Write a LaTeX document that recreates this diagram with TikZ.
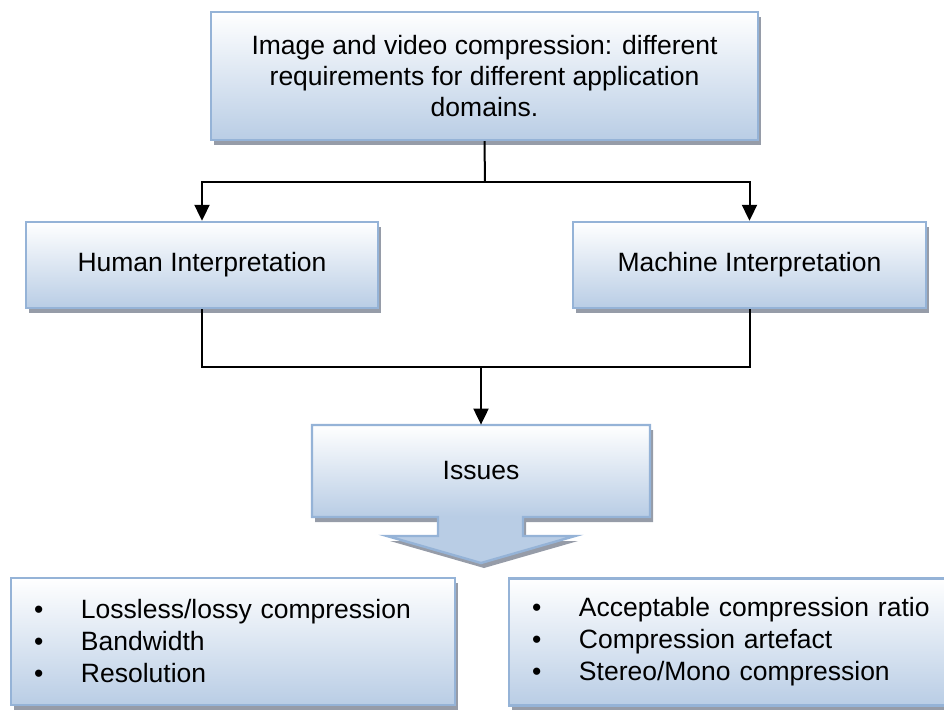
\documentclass[tikz,border=0pt]{standalone}
\usepackage{fontspec}
\setmainfont{Liberation Sans}
\usetikzlibrary{arrows.meta, shadows, positioning}

\definecolor{blockedge}{RGB}{149,179,215}
\definecolor{blockblue}{RGB}{185,205,229}
\definecolor{shadowgray}{RGB}{150,156,168}
% white on top, blue from the box bottom down to the arrow tip
\pgfdeclareverticalshading{issueshade}{100bp}{color(0bp)=(blockblue); color(42bp)=(blockblue); color(75bp)=(white); color(100bp)=(white)}

\begin{document}
\begin{tikzpicture}[x=0.5pt, y=-0.5pt, >={Triangle[length=8pt, width=7.5pt]},
  boxshadow/.style={drop shadow={shadow xshift=1.5pt, shadow yshift=-2.5pt, fill=shadowgray, opacity=1}},
  block/.style={draw=blockedge, line width=1.2pt, top color=white, bottom color=blockblue,
    boxshadow, font=\fontsize{13.25}{15.5}\selectfont, align=center, inner sep=0pt},
  listbox/.style={block, font=\fontsize{13.25}{16}\selectfont, align=left, inner xsep=11.5pt, text width=199pt},
  issuearrow/.style={draw=blockedge, line width=1.2pt, shade, shading=issueshade, boxshadow},
  wire/.style={line width=1pt}]
  \useasboundingbox (0,0) rectangle (944,709);

  \node[block, minimum width=273.5pt, minimum height=64pt] (domains) at (484.5,76)
    {Image and video compression: different\\requirements for different application\\domains.};
  \node[block, minimum width=176pt, minimum height=43pt] (human) at (202,265) {Human Interpretation};
  \node[block, minimum width=176.5pt, minimum height=43pt] (machine) at (749.5,265) {Machine Interpretation};

  % issues box with its arrow
  \path[issuearrow] (312,425) -- (650,425) -- (650,517) -- (523,517) -- (523,536) -- (575,536)
    -- (481,563) -- (387,536) -- (438,536) -- (438,517) -- (312,517) -- cycle;
  \node[font=\fontsize{13.25}{15.5}\selectfont, inner sep=0pt, minimum width=169pt, minimum height=46pt]
    (issues) at (481,471) {Issues};

  \node[listbox, minimum height=63.5pt] (humanissues) at (233,641.5)
    {\makebox[23.5pt][l]{•}Lossless/lossy compression\\
     \makebox[23.5pt][l]{•}Bandwidth\\
     \makebox[23.5pt][l]{•}Resolution};
  \node[listbox, minimum height=63.5pt] (machineissues) at (731,642)
    {\makebox[23.5pt][l]{•}Acceptable compression ratio\\
     \makebox[23.5pt][l]{•}Compression artefact\\
     \makebox[23.5pt][l]{•}Stereo/Mono compression};

  \coordinate (split) at (485,182);
  \coordinate (join) at (481,367);
  \draw[wire] (domains.south) -- (split);
  \draw[wire, ->] (split) -| (human.north);
  \draw[wire, ->] (split) -| (machine.north);
  \draw[wire] (human.south) |- (join) -| (machine.south);
  \draw[wire, ->] (join) -- (issues.north);
\end{tikzpicture}
\end{document}
